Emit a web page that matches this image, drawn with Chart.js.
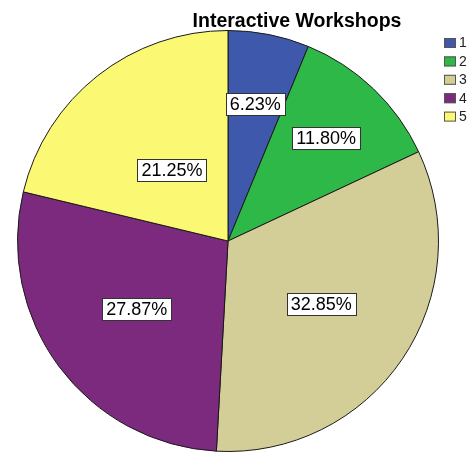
<!DOCTYPE html>
<html>
<head>
<meta charset="utf-8">
<title>Interactive Workshops</title>
<script src="https://cdn.jsdelivr.net/npm/chart.js@4/dist/chart.umd.min.js"></script>
<style>
  html, body { margin: 0; padding: 0; background: #fff; }
  #wrap { width: 470px; height: 452px; position: relative; }
</style>
</head>
<body>
<div id="wrap"><canvas id="pieChart"></canvas></div>
<script>
// Responses per rating (share of respondents, %)
const categories = ['1', '2', '3', '4', '5'];
const percents = [6.23, 11.80, 32.85, 27.87, 21.25];

const sliceColors = ['#3E58AC', '#2EB848', '#D3CE97', '#7C2A7E', '#FBF873'];
// how far out from the centre each value box sits (fraction of radius)
const labelRadius = [0.665, 0.675, 0.535, 0.54, 0.43];

const FONT = '"Liberation Sans", Arial, sans-serif';

// Title, legend and value boxes are drawn straight onto the canvas
const decorPlugin = {
  id: 'decor',
  afterDatasetsDraw(chart) {
    const ctx = chart.ctx;
    const meta = chart.getDatasetMeta(0);

    // value boxes at each slice's mid angle
    ctx.save();
    ctx.font = '18px ' + FONT;
    ctx.textAlign = 'center';
    ctx.textBaseline = 'middle';
    meta.data.forEach((arc, i) => {
      const p = arc.getProps(['x', 'y', 'startAngle', 'endAngle', 'outerRadius'], true);
      const mid = (p.startAngle + p.endAngle) / 2;
      const r = p.outerRadius * labelRadius[i];
      const cx = p.x + Math.cos(mid) * r;
      const cy = p.y + Math.sin(mid) * r;
      const text = percents[i].toFixed(2) + '%';
      const w = Math.round(ctx.measureText(text).width + 8);
      const h = 22;
      const bx = Math.round(cx - w / 2) + 0.5;
      const by = Math.round(cy - h / 2) + 0.5;
      ctx.fillStyle = '#ffffff';
      ctx.fillRect(bx, by, w, h);
      ctx.strokeStyle = '#333333';
      ctx.lineWidth = 1;
      ctx.strokeRect(bx, by, w, h);
      ctx.fillStyle = '#000000';
      ctx.fillText(text, cx, cy + 1);
    });
    ctx.restore();
  },
  afterDraw(chart) {
    const ctx = chart.ctx;
    ctx.save();

    // title
    ctx.font = 'bold 19.5px ' + FONT;
    ctx.fillStyle = '#000000';
    ctx.textAlign = 'center';
    ctx.textBaseline = 'alphabetic';
    ctx.fillText('Interactive Workshops', 297, 27);

    // legend, top right
    ctx.font = '14px ' + FONT;
    ctx.textAlign = 'left';
    ctx.textBaseline = 'middle';
    categories.forEach((c, i) => {
      const y = 38 + i * 18.4;
      ctx.fillStyle = sliceColors[i];
      ctx.fillRect(444, y, 12, 10);
      ctx.strokeStyle = '#555555';
      ctx.lineWidth = 1;
      ctx.strokeRect(444.5, y + 0.5, 11, 9);
      ctx.fillStyle = '#222222';
      ctx.fillText(c, 459, y + 5.5);
    });
    ctx.restore();
  }
};

new Chart(document.getElementById('pieChart').getContext('2d'), {
  type: 'pie',
  data: {
    labels: categories,
    datasets: [{
      data: percents,
      backgroundColor: sliceColors,
      borderColor: '#1a1a1a',
      borderWidth: 1
    }]
  },
  options: {
    responsive: true,
    maintainAspectRatio: false,
    animation: false,
    layout: { padding: { left: 17, right: 31, top: 30, bottom: 0 } },
    plugins: {
      legend: { display: false },
      title: { display: false },
      tooltip: { enabled: false }
    }
  },
  plugins: [decorPlugin]
});
</script>
</body>
</html>
